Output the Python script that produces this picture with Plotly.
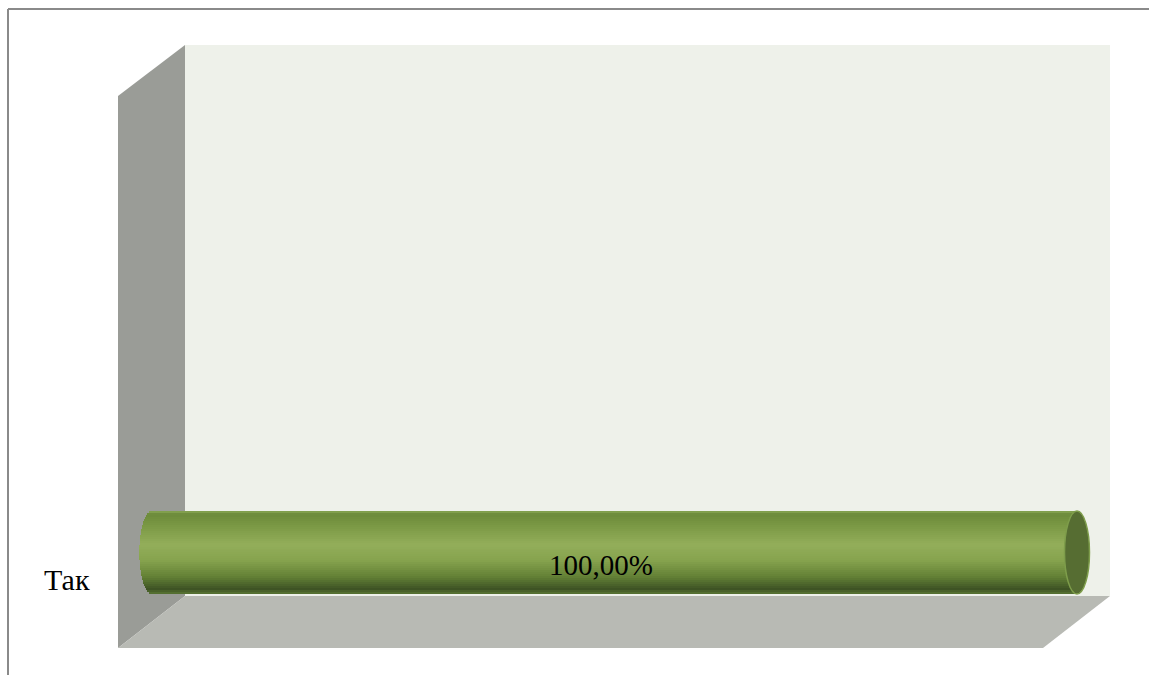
import plotly.graph_objects as go

# ---- data ----
categories = ["Так"]
values = [100.0]
value_labels = ["100,00%"]

W, H = 1149, 675

def px(x):
    return x / W

def py(y):
    return 1 - y / H

fig = go.Figure()

# gradient for the cylinder body (top -> bottom)
stops = [
    (0.00, (0x8a, 0xa8, 0x55)),
    (0.04, (0x6c, 0x8a, 0x3a)),
    (0.18, (0x7b, 0x99, 0x45)),
    (0.40, (0x93, 0xae, 0x5a)),
    (0.60, (0x86, 0xa3, 0x4e)),
    (0.80, (0x62, 0x7f, 0x35)),
    (0.94, (0x3e, 0x53, 0x24)),
    (1.00, (0x5a, 0x76, 0x34)),
]

def grad(t):
    for (a, ca), (b, cb) in zip(stops[:-1], stops[1:]):
        if a <= t <= b:
            f = (t - a) / (b - a) if b > a else 0
            c = [round(ca[k] + (cb[k] - ca[k]) * f) for k in range(3)]
            return "rgb(%d,%d,%d)" % tuple(c)
    return "rgb(%d,%d,%d)" % stops[-1][1]

N = 42
w = 0.8
cap = 1.35  # half-width of end cap in x data units
for i in range(N):
    t = (i + 0.5) / N
    u = 2 * t - 1
    d = cap * max(0.0, 1 - u * u) ** 0.5
    fig.add_trace(go.Bar(
        y=categories,
        x=[v + d for v in values],
        base=[-d for _ in values],
        orientation="h",
        width=w / N * 1.02,
        offset=w / 2 - (i + 1) * w / N,
        marker=dict(color=grad(t), line=dict(width=0)),
        hoverinfo="skip",
        showlegend=False,
    ))

shapes = []
# outer frame (top + left)
shapes.append(dict(type="line", xref="paper", yref="paper", x0=px(8), x1=px(1149),
                   y0=py(9), y1=py(9), line=dict(color="#8a8a8a", width=2), layer="below"))
shapes.append(dict(type="line", xref="paper", yref="paper", x0=px(8), x1=px(8),
                   y0=py(9), y1=py(675), line=dict(color="#8a8a8a", width=2), layer="below"))

def poly(pts):
    p = "M " + " L ".join("%f,%f" % (px(x), py(y)) for x, y in pts) + " Z"
    return p

# back wall
shapes.append(dict(type="path", xref="paper", yref="paper",
                   path=poly([(185, 45), (1110, 45), (1110, 596), (185, 596)]),
                   fillcolor="#eef1ea", line=dict(width=0), layer="below"))
# side wall
shapes.append(dict(type="path", xref="paper", yref="paper",
                   path=poly([(118, 96), (185, 45), (185, 596), (118, 648)]),
                   fillcolor="#9a9c97", line=dict(width=0), layer="below"))
# floor
shapes.append(dict(type="path", xref="paper", yref="paper",
                   path=poly([(185, 596), (1110, 596), (1043, 648), (118, 648)]),
                   fillcolor="#b8bab4", line=dict(width=0), layer="below"))

# right end cap of the cylinder
for v in values:
    shapes.append(dict(type="circle", xref="x", yref="y",
                       x0=v - cap, x1=v + cap, y0=-w / 2, y1=w / 2,
                       fillcolor="#566d32", line=dict(color="#7e9d4b", width=1.5),
                       layer="above"))

annotations = []
for c, v, lab in zip(categories, values, value_labels):
    annotations.append(dict(x=v / 2, y=c, xref="x", yref="y", text=lab,
                            showarrow=False, yshift=-12, xshift=-14,
                            xanchor="center", yanchor="middle",
                            font=dict(family="Liberation Serif", size=29, color="#000000")))
    annotations.append(dict(x=px(67), y=c, xref="paper", yref="y", text=c,
                            showarrow=False, yshift=-27,
                            xanchor="center", yanchor="middle",
                            font=dict(family="Liberation Serif", size=30, color="#000000")))

# y range so bar spans pixels 511..594
unit = 83 / w
r0 = -(H - 552.5) / unit
r1 = 552.5 / unit

# x: value 0 at pixel 152, value 100 at pixel 1077, with padding for end caps
ppu = (1077 - 152) / 100.0
pad = 3.0
xd0 = (152 - pad * ppu) / W
xd1 = (1077 + pad * ppu) / W

fig.update_layout(
    width=W, height=H,
    margin=dict(l=0, r=0, t=0, b=0),
    paper_bgcolor="white", plot_bgcolor="rgba(0,0,0,0)",
    barmode="overlay",
    bargap=0,
    shapes=shapes,
    annotations=annotations,
    xaxis=dict(domain=[xd0, xd1], range=[-pad, 100 + pad], visible=False, fixedrange=True),
    yaxis=dict(domain=[0, 1], range=[r0, r1], type="category", visible=False, fixedrange=True),
    showlegend=False,
)

fig.write_html("out.html")
